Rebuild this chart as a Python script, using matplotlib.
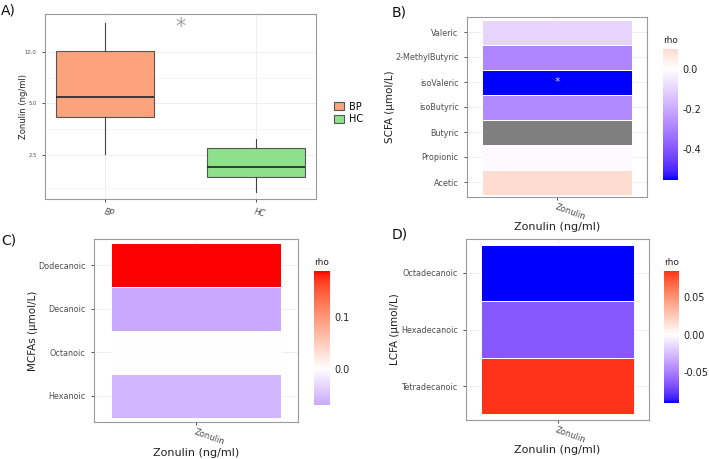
import numpy as np
import matplotlib
matplotlib.use('Agg')
import matplotlib.pyplot as plt
from matplotlib.colors import ListedColormap, Normalize
from matplotlib.patches import Patch
from matplotlib.ticker import FixedLocator, NullFormatter

# ---- data ----
# A) zonulin boxplots (ng/ml)
groups = ['BP', 'HC']
q1 = [4.14, 1.86]
med = [5.44, 2.13]
q3 = [10.1, 2.76]
whislo = [2.54, 1.52]
whishi = [14.8, 3.08]
box_colors = ['#fca27c', '#8fe08b']

# B) SCFA correlation (bottom -> top), nan = not available
scfa = ['Acetic', 'Propionic', 'Butyric', 'isoButyric', 'isoValeric', '2-MethylButyric', 'Valeric']
scfa_rho = [0.10, -0.01, np.nan, -0.28, -0.555, -0.29, -0.10]

# C) MCFA correlation
mcfa = ['Hexanoic', 'Octanoic', 'Decanoic', 'Dodecanoic']
mcfa_rho = [-0.06, 0.0, -0.07, 0.19]

# D) LCFA correlation
lcfa = ['Tetradecanoic', 'Hexadecanoic', 'Octadecanoic']
lcfa_rho = [0.0845, -0.065, -0.091]

W, H = 709, 459
fig = plt.figure(figsize=(W / 100, H / 100), dpi=100)
fig.patch.set_facecolor('white')


def rect(l, t, r, b):
    return [l / W, 1 - b / H, (r - l) / W, (b - t) / H]


# lab interpolation like ggplot's scale_fill_gradient2
M = np.array([[0.4124, 0.3576, 0.1805], [0.2126, 0.7152, 0.0722], [0.0193, 0.1192, 0.9505]])
WP = np.array([0.95047, 1.0, 1.08883])


def to_lab(rgb):
    c = np.array(rgb, float)
    c = np.where(c > 0.04045, ((c + 0.055) / 1.055) ** 2.4, c / 12.92)
    xyz = M @ c / WP
    f = np.where(xyz > 0.008856, np.cbrt(xyz), 7.787 * xyz + 16 / 116)
    return np.array([116 * f[1] - 16, 500 * (f[0] - f[1]), 200 * (f[1] - f[2])])


def from_lab(lab):
    fy = (lab[0] + 16) / 116
    f = np.array([fy + lab[1] / 500, fy, fy - lab[2] / 200])
    xyz = np.where(f ** 3 > 0.008856, f ** 3, (f - 16 / 116) / 7.787) * WP
    c = np.linalg.solve(M, xyz)
    c = np.where(c > 0.0031308, 1.055 * np.clip(c, 0, None) ** (1 / 2.4) - 0.055, 12.92 * c)
    return np.clip(c, 0, 1)


lab_b, lab_w, lab_r = to_lab([0, 0, 1]), to_lab([1, 1, 1]), to_lab([1, 0, 0])
cols = []
for t in np.linspace(-1, 1, 256):
    end = lab_b if t < 0 else lab_r
    cols.append(from_lab(lab_w + abs(t) * (end - lab_w)))
cmap = ListedColormap(cols)

grey_txt = '#4d4d4d'


def style_axes(ax):
    ax.set_facecolor('white')
    for s in ax.spines.values():
        s.set_color('#9a9a9a')
        s.set_linewidth(0.8)
    ax.tick_params(colors='#333333', labelcolor=grey_txt, length=2.5, width=0.6, labelsize=5.8)
    ax.grid(True, color='#ebebeb', linewidth=0.6)
    ax.set_axisbelow(True)


def place_labels(ax, box, xlab_px, ylab_px):
    # put axis titles at pixel positions (centre of text)
    l, t, r, b = box
    if xlab_px is not None:
        ax.xaxis.set_label_coords(0.5, -(xlab_px - b) / (b - t))
        ax.xaxis.label.set_va('center')
    ax.yaxis.set_label_coords(-(l - ylab_px) / (r - l), 0.5)
    ax.yaxis.label.set_va('center')


def heat(ax, cax, names, rho, ylab, ticks, fmt, star=None):
    style_axes(ax)
    vals = np.array(rho, float)
    m = np.nanmax(np.abs(vals))
    norm = Normalize(-m, m)
    y = np.arange(1, len(names) + 1)
    colors = [('#7f7f7f' if np.isnan(v) else cmap(norm(v))) for v in vals]
    ax.barh(y, 1.0, left=0.5, height=1.0, color=colors, edgecolor='white', linewidth=0.7)
    if star is not None:
        ax.text(1.0, y[star], '*', color='#c8c8ff', ha='center', va='center', fontsize=8)
    ax.set_xlim(0.4, 1.6)
    ax.set_ylim(0.4, len(names) + 0.6)
    ax.set_yticks(y)
    ax.set_yticklabels(names)
    ax.set_xticks([1.0])
    ax.set_xticklabels(['Zonulin'], rotation=-20, ha='left', rotation_mode='anchor', fontsize=6)
    ax.tick_params(axis='x', pad=1.5)
    ax.set_xlabel('Zonulin (ng/ml)', fontsize=8, color='#222222')
    ax.set_ylabel(ylab, fontsize=7.5, color='#222222')
    # colour bar showing only the data range
    lo, hi = np.nanmin(vals), np.nanmax(vals)
    grad = np.linspace(hi, lo, 200).reshape(-1, 1)
    cax.imshow(grad, cmap=cmap, norm=norm, aspect='auto', extent=[0, 1, lo, hi])
    cax.set_xticks([])
    cax.yaxis.tick_right()
    cax.set_yticks(ticks)
    cax.set_yticklabels([fmt.format(t) for t in ticks])
    cax.tick_params(axis='y', length=0, labelsize=7, labelcolor='#222222', pad=3)
    for s in cax.spines.values():
        s.set_visible(False)
    cax.set_title('rho', fontsize=6.5, color='#222222', pad=4, loc='left')


# ---- A) boxplot ----
boxA = (45, 14, 316, 199)
axA = fig.add_axes(rect(*boxA))
style_axes(axA)
stats = [dict(q1=q1[i], med=med[i], q3=q3[i], whislo=whislo[i], whishi=whishi[i], fliers=[])
         for i in range(len(groups))]
bp = axA.bxp(stats, positions=[1, 2], widths=0.65, patch_artist=True, showcaps=False,
             boxprops=dict(edgecolor='#555555', linewidth=0.8),
             medianprops=dict(color='#222222', linewidth=1.2),
             whiskerprops=dict(color='#444444', linewidth=0.8))
for patch, c in zip(bp['boxes'], box_colors):
    patch.set_facecolor(c)
axA.set_yscale('log')
axA.set_ylim(1.38, 16.7)
axA.set_xlim(0.6, 2.4)
axA.yaxis.set_major_locator(FixedLocator([2.5, 5, 10]))
axA.set_yticklabels(['2.5', '5.0', '10.0'])
axA.yaxis.set_minor_locator(FixedLocator([1.6, 3.54, 7.07]))
axA.yaxis.set_minor_formatter(NullFormatter())
axA.tick_params(axis='y', which='minor', length=0)
axA.grid(True, which='minor', axis='y', color='#f3f3f3', linewidth=0.5)
axA.tick_params(axis='y', labelsize=3.8)
axA.set_xticks([1, 2])
axA.set_xticklabels(groups, rotation=-15, ha='left', rotation_mode='anchor',
                    fontstyle='italic', fontsize=5.5)
axA.set_ylabel('Zonulin (ng/ml)', fontsize=6, color='#222222')
place_labels(axA, boxA, None, 23)
axA.text(1.5, 14.0, '*', color='#a0a0a0', ha='center', va='center', fontsize=15)
handles = [Patch(facecolor=c, edgecolor='#555555', linewidth=0.8, label=g)
           for g, c in zip(groups, box_colors)]
fig.legend(handles=handles, loc='center left', bbox_to_anchor=(329 / W, 1 - 113 / H),
           frameon=False, fontsize=7, handlelength=1.0, handleheight=0.8,
           handletextpad=0.6, labelspacing=0.3, borderpad=0)

# ---- B) ----
boxB = (467, 17, 647, 197)
axB = fig.add_axes(rect(*boxB))
caxB = fig.add_axes(rect(663, 49, 678, 180))
heat(axB, caxB, scfa, scfa_rho, 'SCFA (\u00b5mol/L)', [0.0, -0.2, -0.4], '{:.1f}', star=4)
place_labels(axB, boxB, 227, 390)

# ---- C) ----
boxC = (94, 239, 298, 422)
axC = fig.add_axes(rect(*boxC))
caxC = fig.add_axes(rect(314, 271, 330, 405))
heat(axC, caxC, mcfa, mcfa_rho, 'MCFAs (\u00b5mol/L)', [0.0, 0.1], '{:.1f}')
place_labels(axC, boxC, 453, 33)

# ---- D) ----
boxD = (466, 239, 649, 420)
axD = fig.add_axes(rect(*boxD))
caxD = fig.add_axes(rect(664, 271, 679, 403))
heat(axD, caxD, lcfa, lcfa_rho, 'LCFA (\u00b5mol/L)', [0.05, 0.0, -0.05], '{:.2f}')
place_labels(axD, boxD, 450, 395)

# panel letters
for lab, x, y in [('A)', 1, 10), ('B)', 392, 12), ('C)', 1, 240), ('D)', 392, 235)]:
    fig.text(x / W, 1 - y / H, lab, fontsize=10, color='#111111', va='center', ha='left')

fig.savefig('out.png', dpi=100, facecolor='white')
